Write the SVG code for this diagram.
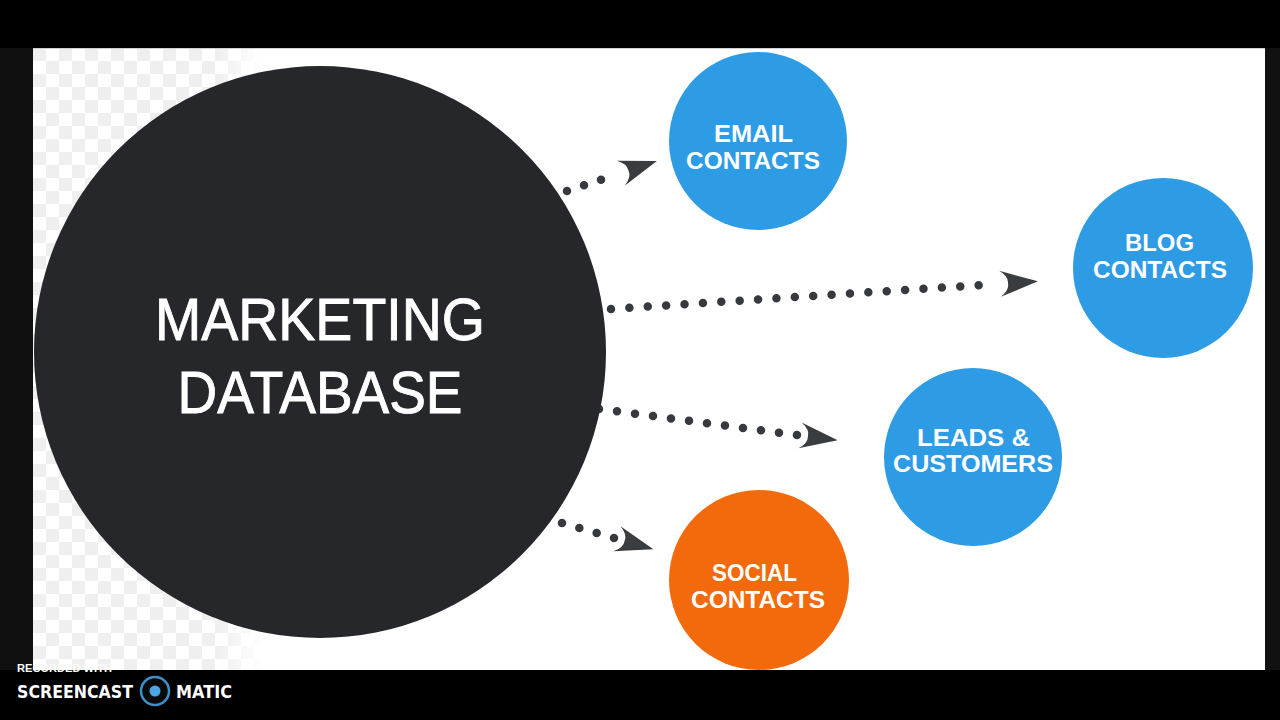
<svg xmlns="http://www.w3.org/2000/svg" width="1280" height="720" viewBox="0 0 1280 720">
<defs>
<style>
.dots{fill:none;stroke:#363a3e;stroke-width:8.5;stroke-linecap:round}
.lbl{font-family:"Liberation Sans",Arial,sans-serif;fill:#ffffff;text-anchor:middle}
.big{font-size:60px;stroke:#ffffff;stroke-width:0.9}
.small{font-size:24px;font-weight:bold}
.blue{fill:#2e9be5}
.orange{fill:#f26a0c}
</style>
<pattern id="checker" width="26" height="26" patternUnits="userSpaceOnUse" x="33" y="48">
<rect width="26" height="26" fill="#ffffff"/>
<rect width="13" height="13" fill="#efefef"/>
<rect x="13" y="13" width="13" height="13" fill="#efefef"/>
</pattern>
<linearGradient id="fade" x1="0" y1="0" x2="1" y2="0">
<stop offset="0" stop-color="#fff" stop-opacity="1"/>
<stop offset="0.8" stop-color="#fff" stop-opacity="1"/>
<stop offset="1" stop-color="#fff" stop-opacity="0"/>
</linearGradient>
<mask id="fadeMask"><rect x="33" y="48" width="230" height="622" fill="url(#fade)"/></mask>
<marker id="arrow" markerUnits="userSpaceOnUse" viewBox="-5 -16 52 32" markerWidth="52" markerHeight="32" refX="0" refY="0" orient="auto" overflow="visible">
<path d="M3,-13 L41,0 L3,13 Q12,7 11,0 Q12,-7 3,-13 Z" fill="#3a3d40"/>
</marker>
</defs>

<!-- frame -->
<rect x="0" y="0" width="1280" height="720" fill="#000000"/>
<rect x="0" y="48" width="33" height="622" fill="#0f0f0f"/>
<rect x="1265" y="48" width="15" height="622" fill="#111111"/>
<rect x="33" y="48" width="1232" height="622" fill="#ffffff"/>
<rect x="33" y="48" width="230" height="622" fill="url(#checker)" mask="url(#fadeMask)"/>
<line x1="33" y1="48.5" x2="1265" y2="48.5" stroke="#cfcfcf" stroke-width="1"/>

<g id="connectors">
<path class="dots" d="M567,191 L618,174" stroke-dasharray="0 17.93" marker-end="url(#arrow)"/>
<path class="dots" d="M611,309 L997,284" stroke-dasharray="0 18.42" marker-end="url(#arrow)"/>
<path class="dots" d="M599,409 L797,435" stroke-dasharray="0 18.15" marker-end="url(#arrow)"/>
<path class="dots" d="M562,523 L614,538" stroke-dasharray="0 18.04" marker-end="url(#arrow)"/>
</g>

<g id="marketing-database">
<circle cx="320" cy="352" r="286" fill="#25272b"/>
<text class="lbl big" x="320" y="340" textLength="330" lengthAdjust="spacingAndGlyphs">MARKETING</text>
<text class="lbl big" x="320" y="413" textLength="285" lengthAdjust="spacingAndGlyphs">DATABASE</text>
</g>

<g id="email-contacts">
<circle class="blue" cx="758" cy="141" r="89"/>
<text class="lbl small" x="753.5" y="142" textLength="79" lengthAdjust="spacingAndGlyphs">EMAIL</text>
<text class="lbl small" x="753" y="169" textLength="134" lengthAdjust="spacingAndGlyphs">CONTACTS</text>
</g>

<g id="blog-contacts">
<circle class="blue" cx="1163" cy="268" r="90"/>
<text class="lbl small" x="1159.5" y="251" textLength="69" lengthAdjust="spacingAndGlyphs">BLOG</text>
<text class="lbl small" x="1160" y="278" textLength="134" lengthAdjust="spacingAndGlyphs">CONTACTS</text>
</g>

<g id="leads-customers">
<circle class="blue" cx="973" cy="457" r="89"/>
<text class="lbl small" x="973.5" y="446" textLength="113" lengthAdjust="spacingAndGlyphs">LEADS &amp;</text>
<text class="lbl small" x="973" y="472" textLength="160" lengthAdjust="spacingAndGlyphs">CUSTOMERS</text>
</g>

<g id="social-contacts">
<circle class="orange" cx="759" cy="580" r="90"/>
<text class="lbl small" x="754.5" y="581" textLength="85" lengthAdjust="spacingAndGlyphs">SOCIAL</text>
<text class="lbl small" x="758" y="608" textLength="134" lengthAdjust="spacingAndGlyphs">CONTACTS</text>
</g>

<g id="watermark">
<text x="17" y="672" font-family="'Liberation Sans',Arial,sans-serif" font-size="10" font-weight="bold" fill="#ffffff" textLength="95" lengthAdjust="spacingAndGlyphs">RECORDED WITH</text>
<text x="17" y="698" font-family="'DejaVu Sans','Liberation Sans',sans-serif" font-size="17" font-weight="bold" fill="#ffffff" textLength="116" lengthAdjust="spacingAndGlyphs">SCREENCAST</text>
<circle cx="155" cy="691" r="14" fill="#0a0a0a" stroke="#3f8fc8" stroke-width="2.5"/>
<circle cx="155" cy="691" r="5.5" fill="#4aa6e6"/>
<text x="176" y="698" font-family="'DejaVu Sans','Liberation Sans',sans-serif" font-size="17" font-weight="bold" fill="#ffffff" textLength="56" lengthAdjust="spacingAndGlyphs">MATIC</text>
</g>
</svg>
